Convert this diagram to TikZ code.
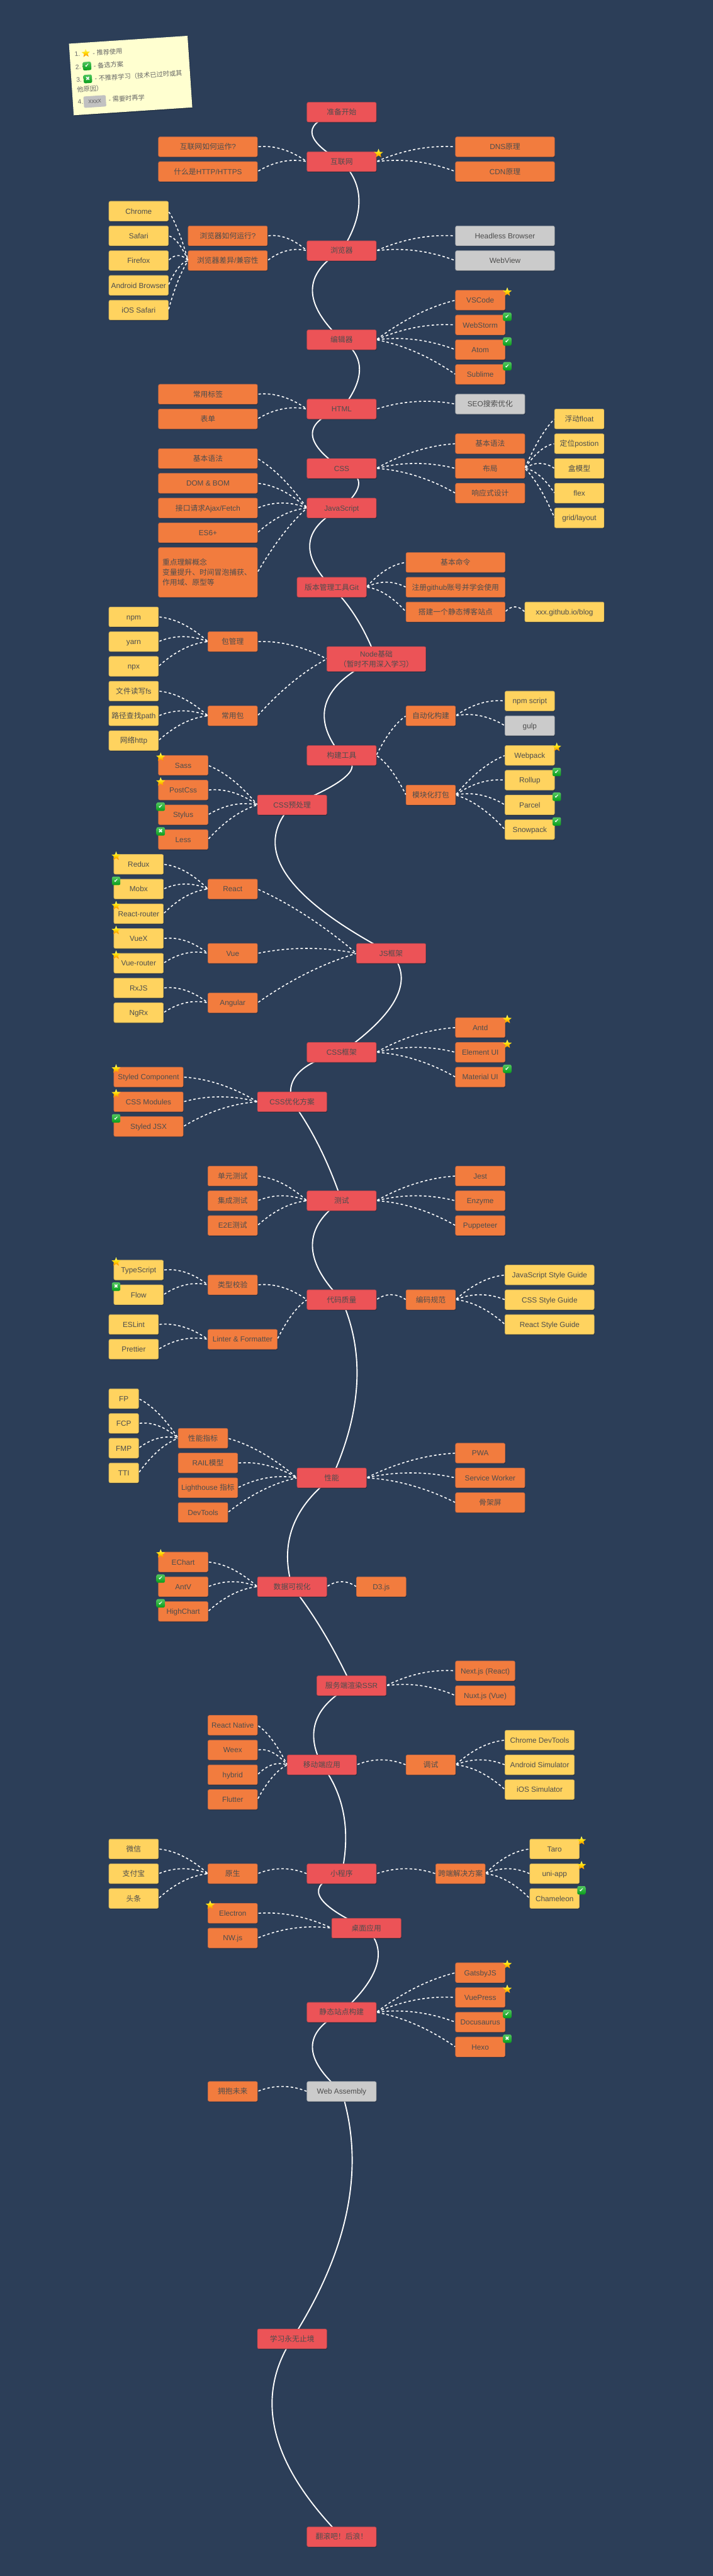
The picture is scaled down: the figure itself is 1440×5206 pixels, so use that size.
\documentclass[tikz,border=0pt]{standalone}
\usepackage{fontspec}
\setmainfont{Liberation Sans}
\newfontfamily\cjk{Noto Sans CJK SC}
\newfontfamily\djv{DejaVu Sans}
\usetikzlibrary{calc,shadows,shapes.geometric}
\definecolor{bgc}{HTML}{2C3E58}
\definecolor{redc}{HTML}{EC5357}
\definecolor{redl}{HTML}{B5474F}
\definecolor{orgc}{HTML}{F27C3E}
\definecolor{orgl}{HTML}{C66A45}
\definecolor{yelc}{HTML}{FFD35F}
\definecolor{yell}{HTML}{C9AC5C}
\definecolor{gryc}{HTML}{CBCBCB}
\definecolor{gryl}{HTML}{A0A4AA}
\definecolor{txtc}{HTML}{4D4D4D}
\definecolor{legc}{HTML}{FFFFD0}
\definecolor{legt}{HTML}{666666}
\definecolor{grn}{HTML}{08AE1C}
\pgfdeclarelayer{bg}
\pgfsetlayers{bg,main}
\newcommand\zh[1]{{\cjk #1}}
\tikzset{
  boxbase/.style={rectangle,rounded corners=3pt,inner sep=0pt,outer sep=0pt,minimum height=40pt,
    line width=.9pt,text=txtc,align=center,font=\fontsize{15}{20}\selectfont,
    drop shadow={shadow xshift=1pt,shadow yshift=-1.5pt,opacity=.3,fill=black}},
  boxred/.style={boxbase,fill=redc,draw=redl},
  boxorg/.style={boxbase,fill=orgc,draw=orgl},
  boxyel/.style={boxbase,fill=yelc,draw=yell},
  boxgry/.style={boxbase,fill=gryc,draw=gryl},
  spineline/.style={draw=white,line width=2.4pt},
  dashline/.style={draw=white,line width=2pt,dash pattern=on 5pt off 4.5pt,shorten <=2pt,shorten >=1pt},
  starmark/.style={star,star points=5,star point ratio=2.3,minimum size=19pt,inner sep=0pt,outer sep=0pt,
    top color=white!20!yellow!70!white,bottom color=orange,middle color=yellow!70!orange,draw=none},
  tickmark/.style={rectangle,rounded corners=3pt,minimum size=17pt,inner sep=0pt,outer sep=0pt,
    top color=grn!70!white,bottom color=grn!90!black,text=white,font=\djv\fontsize{11}{11}\selectfont},
  legtext/.style={anchor=west,inner sep=0pt,outer sep=0pt,text=legt,transform shape,font=\fontsize{13}{16}\selectfont},
}
\newcommand\bx[6]{\node[#1,minimum width=#5pt,text height=13pt,text depth=2pt] (#2) at ({#3+#5/2},{#4+20}) {#6};}
\newcommand\lnk[2]{%
  \coordinate (cq) at ($(#1.east)!.5!(#2.west)+(0,-20)$);
  \draw[dashline] (#1.east) .. controls ($(#1.east)!.6667!(cq)$) and ($(#2.west)!.6667!(cq)$) .. (#2.west);}
\newcommand\spn[3]{%
  \coordinate (cq) at ($(#1.center)!.5!(#2.center)+(0,-20)$);
  \coordinate (cr) at (#3,0 |- cq);
  \draw[spineline] (#1.center) .. controls ($(#1.center)!.6667!(cr)$) and ($(#2.center)!.6667!(cr)$) .. (#2.center);}
\newcommand\sR[1]{\node[starmark] (#1badge) at ($(#1.north east)+(4.5,3.5)$) {};}
\newcommand\sL[1]{\node[starmark] (#1badge) at ($(#1.north west)+(4.5,3.5)$) {};}
\newcommand\cR[1]{\node[tickmark] (#1badge) at ($(#1.north east)+(4.5,3.5)$) {✔};}
\newcommand\cL[1]{\node[tickmark] (#1badge) at ($(#1.north west)+(4.5,3.5)$) {✔};}
\newcommand\xR[1]{\node[tickmark] (#1badge) at ($(#1.north east)+(4.5,3.5)$) {✖};}
\newcommand\xL[1]{\node[tickmark] (#1badge) at ($(#1.north west)+(4.5,3.5)$) {✖};}
\begin{document}
\begin{tikzpicture}[x=1pt,y=-1pt]
\useasboundingbox (0,0) rectangle (1440,5206);
\begin{pgfonlayer}{bg}
\fill[bgc] (0,0) rectangle (1440,5206);
\end{pgfonlayer}
% legend
\begin{scope}[shift={(139.3,88.3)},rotate=3.8]
\node[anchor=north west,rectangle,fill=legc,minimum width=240pt,minimum height=145pt,inner sep=0pt,outer sep=0pt,transform shape,
  drop shadow={shadow xshift=1pt,shadow yshift=-1.5pt,opacity=.25,fill=black}] (legend) at (0,0) {};
\node[legtext] (l1a) at (10,22) {1.};
\node[starmark,transform shape,minimum size=18pt] (l1b) at (32.7,21.5) {};
\node[legtext] (l1c) at (46.6,22) {- \zh{推荐使用}};
\node[legtext] (l2a) at (10,48) {2.};
\node[tickmark,transform shape] (l2b) at (33.4,47.5) {✔};
\node[legtext] (l2c) at (46.9,48) {- \zh{备选方案}};
\node[legtext] (l3a) at (10,74) {3.};
\node[tickmark,transform shape] (l3b) at (33.2,73.5) {✖};
\node[legtext] (l3c) at (47.2,74) {- \zh{不推荐学习（技术已过时或其}};
\node[legtext] (l3d) at (10,94) {\zh{他原因）}};
\node[legtext] (l4a) at (10,119) {4.};
\node[rectangle,rounded corners=2pt,fill=gryc!95!black,minimum width=45pt,minimum height=23pt,inner sep=0pt,text=legt,transform shape,font=\fontsize{13}{16}\selectfont] (l4b) at (44.4,120) {xxxx};
\node[legtext] (l4c) at (72.4,118) {- \zh{需要时再学}};
\end{scope}
% main column
\bx{boxred}{start}{620}{206.7}{140}{\zh{准备开始}}
\bx{boxred}{net}{620}{306.7}{140}{\zh{互联网}}
\bx{boxorg}{netA}{320}{276.7}{200}{\zh{互联网如何运作}?}
\bx{boxorg}{netB}{320}{326.7}{200}{\zh{什么是}HTTP/HTTPS}
\bx{boxorg}{dns}{920}{276.7}{200}{DNS\zh{原理}}
\bx{boxorg}{cdn}{920}{326.7}{200}{CDN\zh{原理}}
\bx{boxred}{brow}{620}{486.7}{140}{\zh{浏览器}}
\bx{boxyel}{chrome}{220}{406.7}{120}{Chrome}
\bx{boxyel}{safari}{220}{456.7}{120}{Safari}
\bx{boxyel}{firefox}{220}{506.7}{120}{Firefox}
\bx{boxyel}{android}{220}{556.7}{120}{Android Browser}
\bx{boxyel}{iossaf}{220}{606.7}{120}{iOS Safari}
\bx{boxorg}{browA}{380}{456.7}{160}{\zh{浏览器如何运行}?}
\bx{boxorg}{browB}{380}{506.7}{160}{\zh{浏览器差异}/\zh{兼容性}}
\bx{boxgry}{headless}{920}{456.7}{200}{Headless Browser}
\bx{boxgry}{webview}{920}{506.7}{200}{WebView}
\bx{boxred}{editor}{620}{666.7}{140}{\zh{编辑器}}
\bx{boxorg}{vscode}{920}{586.7}{100}{VSCode}
\bx{boxorg}{webstorm}{920}{636.7}{100}{WebStorm}
\bx{boxorg}{atom}{920}{686.7}{100}{Atom}
\bx{boxorg}{sublime}{920}{736.7}{100}{Sublime}
\bx{boxred}{html}{620}{806.7}{140}{HTML}
\bx{boxorg}{tags}{320}{776.7}{200}{\zh{常用标签}}
\bx{boxorg}{forms}{320}{826.7}{200}{\zh{表单}}
\bx{boxgry}{seo}{920}{796.7}{140}{SEO\zh{搜索优化}}
\bx{boxred}{css}{620}{926.7}{140}{CSS}
\bx{boxorg}{cssA}{920}{876.7}{140}{\zh{基本语法}}
\bx{boxorg}{cssB}{920}{926.7}{140}{\zh{布局}}
\bx{boxorg}{cssC}{920}{976.7}{140}{\zh{响应式设计}}
\bx{boxyel}{float}{1120}{826.7}{100}{\zh{浮动}float}
\bx{boxyel}{postion}{1120}{876.7}{100}{\zh{定位}postion}
\bx{boxyel}{boxmodel}{1120}{926.7}{100}{\zh{盒模型}}
\bx{boxyel}{flexb}{1120}{976.7}{100}{flex}
\bx{boxyel}{gridl}{1120}{1026.7}{100}{grid/layout}
\bx{boxred}{js}{620}{1006.7}{140}{JavaScript}
\bx{boxorg}{jsA}{320}{906.7}{200}{\zh{基本语法}}
\bx{boxorg}{jsB}{320}{956.7}{200}{DOM \& BOM}
\bx{boxorg}{jsC}{320}{1006.7}{200}{\zh{接口请求}Ajax/Fetch}
\bx{boxorg}{jsD}{320}{1056.7}{200}{ES6+}
\node[boxorg,minimum width=200pt,minimum height=100pt,text width=184pt,align=left] (jsE) at (420,1156.7) {\zh{重点理解概念}\\\zh{变量提升、时间冒泡捕获、}\\\zh{作用域、原型等}};
\bx{boxred}{git}{600}{1166.7}{140}{\zh{版本管理工具}Git}
\bx{boxorg}{gitA}{820}{1116.7}{200}{\zh{基本命令}}
\bx{boxorg}{gitB}{820}{1166.7}{200}{\zh{注册}github\zh{账号并学会使用}}
\bx{boxorg}{gitC}{820}{1216.7}{200}{\zh{搭建一个静态博客站点}}
\bx{boxyel}{blog}{1060}{1216.7}{160}{xxx.github.io/blog}
\node[boxred,minimum width=200pt,minimum height=50pt] (node) at (760,1331.7) {Node\zh{基础}\\\zh{（暂时不用深入学习）}};
\bx{boxorg}{pkg}{420}{1276.7}{100}{\zh{包管理}}
\bx{boxyel}{npm}{220}{1226.7}{100}{npm}
\bx{boxyel}{yarn}{220}{1276.7}{100}{yarn}
\bx{boxyel}{npx}{220}{1326.7}{100}{npx}
\bx{boxorg}{common}{420}{1426.7}{100}{\zh{常用包}}
\bx{boxyel}{fsp}{220}{1376.7}{100}{\zh{文件读写}fs}
\bx{boxyel}{pathp}{220}{1426.7}{100}{\zh{路径查找}path}
\bx{boxyel}{httpp}{220}{1476.7}{100}{\zh{网络}http}
\bx{boxred}{build}{620}{1506.7}{140}{\zh{构建工具}}
\bx{boxorg}{auto}{820}{1426.7}{100}{\zh{自动化构建}}
\bx{boxyel}{npmscript}{1020}{1396.7}{100}{npm script}
\bx{boxgry}{gulp}{1020}{1446.7}{100}{gulp}
\bx{boxorg}{bundle}{820}{1586.7}{100}{\zh{模块化打包}}
\bx{boxyel}{webpack}{1020}{1506.7}{100}{Webpack}
\bx{boxyel}{rollup}{1020}{1556.7}{100}{Rollup}
\bx{boxyel}{parcel}{1020}{1606.7}{100}{Parcel}
\bx{boxyel}{snowpack}{1020}{1656.7}{100}{Snowpack}
\bx{boxred}{prep}{520}{1606.7}{140}{CSS\zh{预处理}}
\bx{boxorg}{sass}{320}{1526.7}{100}{Sass}
\bx{boxorg}{postcss}{320}{1576.7}{100}{PostCss}
\bx{boxorg}{stylus}{320}{1626.7}{100}{Stylus}
\bx{boxorg}{less}{320}{1676.7}{100}{Less}
\bx{boxred}{jsf}{720}{1906.7}{140}{JS\zh{框架}}
\bx{boxorg}{react}{420}{1776.7}{100}{React}
\bx{boxorg}{vue}{420}{1906.7}{100}{Vue}
\bx{boxorg}{angular}{420}{2006.7}{100}{Angular}
\bx{boxyel}{redux}{230}{1726.7}{100}{Redux}
\bx{boxyel}{mobx}{230}{1776.7}{100}{Mobx}
\bx{boxyel}{rrouter}{230}{1826.7}{100}{React-router}
\bx{boxyel}{vuex}{230}{1876.7}{100}{VueX}
\bx{boxyel}{vrouter}{230}{1926.7}{100}{Vue-router}
\bx{boxyel}{rxjs}{230}{1976.7}{100}{RxJS}
\bx{boxyel}{ngrx}{230}{2026.7}{100}{NgRx}
\bx{boxred}{cssf}{620}{2106.7}{140}{CSS\zh{框架}}
\bx{boxorg}{antd}{920}{2056.7}{100}{Antd}
\bx{boxorg}{element}{920}{2106.7}{100}{Element UI}
\bx{boxorg}{material}{920}{2156.7}{100}{Material UI}
\bx{boxred}{cssopt}{520}{2206.7}{140}{CSS\zh{优化方案}}
\bx{boxorg}{styledc}{230}{2156.7}{140}{Styled Component}
\bx{boxorg}{cssmod}{230}{2206.7}{140}{CSS Modules}
\bx{boxorg}{styledj}{230}{2256.7}{140}{Styled JSX}
\bx{boxred}{test}{620}{2406.7}{140}{\zh{测试}}
\bx{boxorg}{unit}{420}{2356.7}{100}{\zh{单元测试}}
\bx{boxorg}{integ}{420}{2406.7}{100}{\zh{集成测试}}
\bx{boxorg}{etoe}{420}{2456.7}{100}{E2E\zh{测试}}
\bx{boxorg}{jest}{920}{2356.7}{100}{Jest}
\bx{boxorg}{enzyme}{920}{2406.7}{100}{Enzyme}
\bx{boxorg}{puppeteer}{920}{2456.7}{100}{Puppeteer}
\bx{boxred}{quality}{620}{2606.7}{140}{\zh{代码质量}}
\bx{boxorg}{typecheck}{420}{2576.7}{100}{\zh{类型校验}}
\bx{boxyel}{typescript}{230}{2546.7}{100}{TypeScript}
\bx{boxyel}{flow}{230}{2596.7}{100}{Flow}
\bx{boxorg}{linter}{420}{2686.7}{140}{Linter \& Formatter}
\bx{boxyel}{eslint}{220}{2656.7}{100}{ESLint}
\bx{boxyel}{prettier}{220}{2706.7}{100}{Prettier}
\bx{boxorg}{codestyle}{820}{2606.7}{100}{\zh{编码规范}}
\bx{boxyel}{jsguide}{1020}{2556.7}{180}{JavaScript Style Guide}
\bx{boxyel}{cssguide}{1020}{2606.7}{180}{CSS Style Guide}
\bx{boxyel}{reactguide}{1020}{2656.7}{180}{React Style Guide}
\bx{boxred}{perf}{600}{2966.7}{140}{\zh{性能}}
\bx{boxorg}{metrics}{360}{2886.7}{100}{\zh{性能指标}}
\bx{boxorg}{rail}{360}{2936.7}{120}{RAIL\zh{模型}}
\bx{boxorg}{lighthouse}{360}{2986.7}{120}{Lighthouse \zh{指标}}
\bx{boxorg}{devtools}{360}{3036.7}{100}{DevTools}
\bx{boxyel}{fp}{220}{2806.7}{60}{FP}
\bx{boxyel}{fcp}{220}{2856.7}{60}{FCP}
\bx{boxyel}{fmp}{220}{2906.7}{60}{FMP}
\bx{boxyel}{tti}{220}{2956.7}{60}{TTI}
\bx{boxorg}{pwa}{920}{2916.7}{100}{PWA}
\bx{boxorg}{sworker}{920}{2966.7}{140}{Service Worker}
\bx{boxorg}{skeleton}{920}{3016.7}{140}{\zh{骨架屏}}
\bx{boxred}{dataviz}{520}{3186.7}{140}{\zh{数据可视化}}
\bx{boxorg}{echart}{320}{3136.7}{100}{EChart}
\bx{boxorg}{antv}{320}{3186.7}{100}{AntV}
\bx{boxorg}{highchart}{320}{3236.7}{100}{HighChart}
\bx{boxorg}{dthree}{720}{3186.7}{100}{D3.js}
\bx{boxred}{ssr}{640}{3386.7}{140}{\zh{服务端渲染}SSR}
\bx{boxorg}{nextjs}{920}{3356.7}{120}{Next.js (React)}
\bx{boxorg}{nuxtjs}{920}{3406.7}{120}{Nuxt.js (Vue)}
\bx{boxred}{mobile}{580}{3546.7}{140}{\zh{移动端应用}}
\bx{boxorg}{rnative}{420}{3466.7}{100}{React Native}
\bx{boxorg}{weex}{420}{3516.7}{100}{Weex}
\bx{boxorg}{hybrid}{420}{3566.7}{100}{hybrid}
\bx{boxorg}{flutter}{420}{3616.7}{100}{Flutter}
\bx{boxorg}{debug}{820}{3546.7}{100}{\zh{调试}}
\bx{boxyel}{chromedev}{1020}{3496.7}{140}{Chrome DevTools}
\bx{boxyel}{androidsim}{1020}{3546.7}{140}{Android Simulator}
\bx{boxyel}{iossim}{1020}{3596.7}{140}{iOS Simulator}
\bx{boxred}{mini}{620}{3766.7}{140}{\zh{小程序}}
\bx{boxorg}{native}{420}{3766.7}{100}{\zh{原生}}
\bx{boxyel}{wechat}{220}{3716.7}{100}{\zh{微信}}
\bx{boxyel}{alipay}{220}{3766.7}{100}{\zh{支付宝}}
\bx{boxyel}{toutiao}{220}{3816.7}{100}{\zh{头条}}
\bx{boxorg}{cross}{880}{3766.7}{100}{\zh{跨端解决方案}}
\bx{boxyel}{taro}{1070}{3716.7}{100}{Taro}
\bx{boxyel}{uniapp}{1070}{3766.7}{100}{uni-app}
\bx{boxyel}{chameleon}{1070}{3816.7}{100}{Chameleon}
\bx{boxred}{desktop}{670}{3876.7}{140}{\zh{桌面应用}}
\bx{boxorg}{electron}{420}{3846.7}{100}{Electron}
\bx{boxorg}{nwjs}{420}{3896.7}{100}{NW.js}
\bx{boxred}{static}{620}{4046.7}{140}{\zh{静态站点构建}}
\bx{boxorg}{gatsby}{920}{3966.7}{100}{GatsbyJS}
\bx{boxorg}{vuepress}{920}{4016.7}{100}{VuePress}
\bx{boxorg}{docusaurus}{920}{4066.7}{100}{Docusaurus}
\bx{boxorg}{hexo}{920}{4116.7}{100}{Hexo}
\bx{boxgry}{wasm}{620}{4206.7}{140}{Web Assembly}
\bx{boxorg}{future}{420}{4206.7}{100}{\zh{拥抱未来}}
\bx{boxred}{forever}{520}{4706.7}{140}{\zh{学习永无止境}}
\bx{boxred}{roll}{620}{5106.7}{140}{\zh{翻滚吧！后浪！}}
% badges
\sR{net}\sR{vscode}\cR{webstorm}\cR{atom}\cR{sublime}
\sR{webpack}\cR{rollup}\cR{parcel}\cR{snowpack}
\sL{sass}\sL{postcss}\cL{stylus}\xL{less}
\sL{redux}\cL{mobx}\sL{rrouter}\sL{vuex}\sL{vrouter}
\sR{antd}\sR{element}\cR{material}
\sL{styledc}\sL{cssmod}\cL{styledj}
\sL{typescript}\xL{flow}
\sL{echart}\cL{antv}\cL{highchart}
\sR{taro}\sR{uniapp}\cR{chameleon}
\sL{electron}
\sR{gatsby}\sR{vuepress}\cR{docusaurus}\xR{hexo}
% spine
\begin{pgfonlayer}{bg}
\spn{start}{net}{570}
\spn{net}{brow}{760}
\spn{brow}{editor}{572}
\spn{editor}{html}{762}
\spn{html}{css}{572}
\spn{css}{js}{759}
\spn{js}{git}{572}
\spn{git}{node}{725}
\spn{node}{build}{594}
\spn{build}{prep}{762}
\spn{prep}{jsf}{466}
\spn{jsf}{cssf}{860}
\spn{cssf}{cssopt}{569}
\spn{cssopt}{test}{649}
\spn{test}{quality}{572}
\spn{quality}{perf}{761}
\spn{perf}{dataviz}{552}
\spn{dataviz}{ssr}{654}
\spn{ssr}{mobile}{598}
\spn{mobile}{mini}{718}
\spn{mini}{desktop}{576}
\spn{desktop}{static}{806}
\spn{static}{wasm}{572}
\spn{wasm}{forever}{762}
\spn{forever}{roll}{474}
\end{pgfonlayer}
% dashed connectors
\lnk{netA}{net}\lnk{netB}{net}\lnk{net}{dns}\lnk{net}{cdn}
\lnk{chrome}{browB}\lnk{safari}{browB}\lnk{firefox}{browB}\lnk{android}{browB}\lnk{iossaf}{browB}
\lnk{browA}{brow}\lnk{browB}{brow}\lnk{brow}{headless}\lnk{brow}{webview}
\lnk{editor}{vscode}\lnk{editor}{webstorm}\lnk{editor}{atom}\lnk{editor}{sublime}
\lnk{tags}{html}\lnk{forms}{html}\lnk{html}{seo}
\lnk{css}{cssA}\lnk{css}{cssB}\lnk{css}{cssC}
\lnk{cssB}{float}\lnk{cssB}{postion}\lnk{cssB}{boxmodel}\lnk{cssB}{flexb}\lnk{cssB}{gridl}
\lnk{jsA}{js}\lnk{jsB}{js}\lnk{jsC}{js}\lnk{jsD}{js}\lnk{jsE}{js}
\lnk{git}{gitA}\lnk{git}{gitB}\lnk{git}{gitC}\lnk{gitC}{blog}
\lnk{npm}{pkg}\lnk{yarn}{pkg}\lnk{npx}{pkg}
\lnk{fsp}{common}\lnk{pathp}{common}\lnk{httpp}{common}
\lnk{pkg}{node}\lnk{common}{node}
\lnk{build}{auto}\lnk{build}{bundle}
\lnk{auto}{npmscript}\lnk{auto}{gulp}
\lnk{bundle}{webpack}\lnk{bundle}{rollup}\lnk{bundle}{parcel}\lnk{bundle}{snowpack}
\lnk{sass}{prep}\lnk{postcss}{prep}\lnk{stylus}{prep}\lnk{less}{prep}
\lnk{redux}{react}\lnk{mobx}{react}\lnk{rrouter}{react}
\lnk{vuex}{vue}\lnk{vrouter}{vue}
\lnk{rxjs}{angular}\lnk{ngrx}{angular}
\lnk{react}{jsf}\lnk{vue}{jsf}\lnk{angular}{jsf}
\lnk{cssf}{antd}\lnk{cssf}{element}\lnk{cssf}{material}
\lnk{styledc}{cssopt}\lnk{cssmod}{cssopt}\lnk{styledj}{cssopt}
\lnk{unit}{test}\lnk{integ}{test}\lnk{etoe}{test}
\lnk{test}{jest}\lnk{test}{enzyme}\lnk{test}{puppeteer}
\lnk{typescript}{typecheck}\lnk{flow}{typecheck}
\lnk{eslint}{linter}\lnk{prettier}{linter}
\lnk{typecheck}{quality}\lnk{linter}{quality}
\lnk{quality}{codestyle}
\lnk{codestyle}{jsguide}\lnk{codestyle}{cssguide}\lnk{codestyle}{reactguide}
\lnk{fp}{metrics}\lnk{fcp}{metrics}\lnk{fmp}{metrics}\lnk{tti}{metrics}
\lnk{metrics}{perf}\lnk{rail}{perf}\lnk{lighthouse}{perf}\lnk{devtools}{perf}
\lnk{perf}{pwa}\lnk{perf}{sworker}\lnk{perf}{skeleton}
\lnk{echart}{dataviz}\lnk{antv}{dataviz}\lnk{highchart}{dataviz}\lnk{dataviz}{dthree}
\lnk{ssr}{nextjs}\lnk{ssr}{nuxtjs}
\lnk{rnative}{mobile}\lnk{weex}{mobile}\lnk{hybrid}{mobile}\lnk{flutter}{mobile}
\lnk{mobile}{debug}
\lnk{debug}{chromedev}\lnk{debug}{androidsim}\lnk{debug}{iossim}
\lnk{wechat}{native}\lnk{alipay}{native}\lnk{toutiao}{native}
\lnk{native}{mini}\lnk{mini}{cross}
\lnk{cross}{taro}\lnk{cross}{uniapp}\lnk{cross}{chameleon}
\lnk{electron}{desktop}\lnk{nwjs}{desktop}
\lnk{static}{gatsby}\lnk{static}{vuepress}\lnk{static}{docusaurus}\lnk{static}{hexo}
\lnk{future}{wasm}
\end{tikzpicture}
\end{document}
